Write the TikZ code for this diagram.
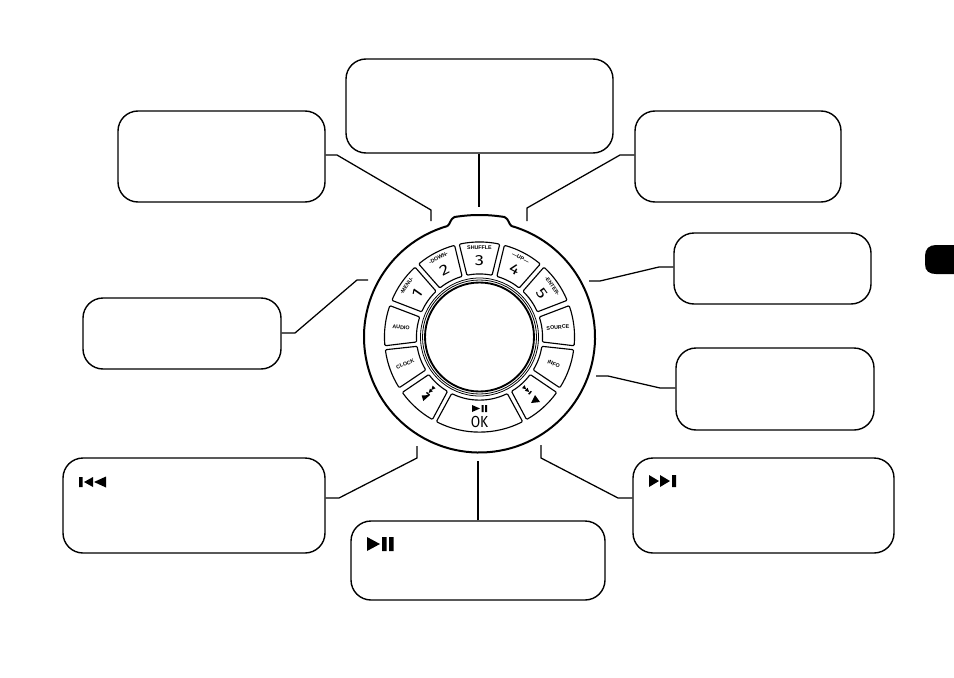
\documentclass[tikz,border=0pt]{standalone}
\usepackage{graphicx}
\usepackage{fontspec}
\setmainfont{Liberation Sans}
\newfontfamily\digitfont{Fira Sans}
\tikzset{
  box/.style={draw=black,line width=1.05pt,rounded corners=15pt,inner sep=0pt,fill=white},
  leader/.style={draw=black,line width=0.95pt},
  btn/.style={draw=black,line width=0.85pt,rounded corners=0.8pt,line join=round},
  small/.style={inner sep=0pt,font=\bfseries\fontsize{4}{4.5}\selectfont},
  digit/.style={inner sep=0pt,font=\digitfont\fontsize{11}{12}\selectfont},
  icon/.style={fill=black,draw=none},
}
\newcommand{\ringbtn}[2]{%
  \draw[btn] ({#1-#2}:95) arc[start angle=#1-#2,end angle=#1+#2,radius=95]
     -- ({#1+#2-0.8}:63) arc[start angle=#1+#2-0.8,end angle=#1-#2+0.8,radius=63] -- cycle;}
\newcommand{\widedigit}[1]{\scalebox{1.25}[1]{#1}}
\begin{document}
\begin{tikzpicture}[x=0.75pt,y=-0.75pt]
\useasboundingbox (0,0) rectangle (954,678);
% boxes
\node[box,minimum width=155.25pt,minimum height=68.25pt] (tl) at (221.5,156.5) {};
\node[box,minimum width=200.25pt,minimum height=70.5pt] (tc) at (479.5,106) {};
\node[box,minimum width=154.5pt,minimum height=68.25pt] (tr) at (738,156.5) {};
\node[box,minimum width=147.75pt,minimum height=53.25pt] (r1) at (772.5,268.5) {};
\node[box,minimum width=148.5pt,minimum height=61.5pt] (r2) at (775,389) {};
\node[box,minimum width=148.5pt,minimum height=53.25pt] (l1) at (182,333.5) {};
\node[box,minimum width=196.5pt,minimum height=71.25pt] (bl) at (194,505.5) {};
\node[box,minimum width=190.5pt,minimum height=59.25pt] (bc) at (478,560.5) {};
\node[box,minimum width=195.75pt,minimum height=71.25pt] (br) at (763.5,505.5) {};
% leaders
\coordinate (a1) at (337,155); \coordinate (a2) at (431,210); \coordinate (a3) at (431,221);
\draw[leader] (tl.east |- a1) -- (a1) -- (a2) -- (a3);
\coordinate (b1) at (479,207);
\draw[leader] (tc.south -| b1) -- (b1);
\coordinate (c1) at (620,155); \coordinate (c2) at (527,208); \coordinate (c3) at (527,221);
\draw[leader] (tr.west |- c1) -- (c1) -- (c2) -- (c3);
\coordinate (d1) at (659,267); \coordinate (d2) at (600,281); \coordinate (d3) at (589,281);
\draw[leader] (r1.west |- d1) -- (d1) -- (d2) -- (d3);
\coordinate (e1) at (660,388); \coordinate (e2) at (608,376); \coordinate (e3) at (596,376);
\draw[leader] (r2.west |- e1) -- (e1) -- (e2) -- (e3);
\coordinate (f1) at (618,498); \coordinate (f2) at (541,458); \coordinate (f3) at (541,445);
\draw[leader] (br.west |- f1) -- (f1) -- (f2) -- (f3);
\coordinate (g1) at (478,461);
\draw[leader] (bc.north -| g1) -- (g1);
\coordinate (h1) at (339,498); \coordinate (h2) at (417,458); \coordinate (h3) at (417,446);
\draw[leader] (bl.east |- h1) -- (h1) -- (h2) -- (h3);
\coordinate (i1) at (295,333); \coordinate (i2) at (357,280); \coordinate (i3) at (368,280);
\draw[leader] (l1.east |- i1) -- (i1) -- (i2) -- (i3);
% box icons
\fill[icon] (79,477) rectangle (82.5,487) (84,482) -- (93,477) -- (93,487) -- cycle (94,482) -- (106,476.5) -- (106,487.5) -- cycle;
\fill[icon] (367,537) -- (380,544) -- (367,551) -- cycle (382,537) rectangle (386.5,551) (389,537) rectangle (393.5,551);
\fill[icon] (649,475) -- (659,481) -- (649,487) -- cycle (660,475) -- (670,481) -- (660,487) -- cycle (672,475) rectangle (676,487);
% thumb tab
\fill[black] (954,245) -- (936,245) .. controls (929,245) and (925,249) .. (925,256) -- (925,264) .. controls (925,271) and (929,274) .. (936,274) -- (954,274) -- cycle;
% dial
\begin{scope}[shift={(479.5,337)},y=0.75pt]
\draw[line width=1.5pt,line join=round] (106.1:115.5) arc[start angle=106.1,end angle=433.9,radius=115.5]
  .. controls (29,113) and (29.5,118) .. (25,120)
  .. controls (15,121.5) and (8,122) .. (0,122)
  .. controls (-8,122) and (-15,121.5) .. (-25,120)
  .. controls (-29.5,118) and (-29,113) .. (106.1:115.5);
\draw[line width=0.6pt] (0,0) circle[radius=59];
\draw[line width=0.6pt] (0,0) circle[radius=57];
\draw[line width=1.4pt] (0,0) circle[radius=54.5];
\ringbtn{90}{12.3}
\ringbtn{117.5}{12.3}
\ringbtn{145}{12.3}
\ringbtn{173}{12.3}
\ringbtn{200}{12.3}
\ringbtn{228}{12.3}
\ringbtn{270}{27}
\ringbtn{312}{12.3}
\ringbtn{340}{12.3}
\ringbtn{7}{12.3}
\ringbtn{35}{12.3}
\ringbtn{62.5}{12.3}
\node[small,rotate=0] (lshuffle) at (90:89.5) {SHUFFLE};
\node[small,rotate=27.5] (ldown) at (117.5:89) {-DOWN-};
\node[small,rotate=55] (lmenu) at (145:89) {-MENU-};
\node[small,rotate=-27.5] (lup) at (62.5:89) {---UP---};
\node[small,rotate=-55] (lenter) at (35:89) {-ENTER-};
\node[digit] (d3) at (90:76.5) {\widedigit{3}};
\node[digit,rotate=27.5] (d2) at (117.5:76) {\widedigit{2}};
\node[digit,rotate=55] (d1) at (145:76) {\widedigit{1}};
\node[digit,rotate=-27.5] (d4) at (62.5:76) {\widedigit{4}};
\node[digit,rotate=-55] (d5) at (35:76) {\widedigit{5}};
\node[small,rotate=-5] (laudio) at (173:79) {AUDIO};
\node[small,rotate=5] (lsource) at (7:79) {SOURCE};
\node[small,rotate=22] (lclock) at (200:79) {CLOCK};
\node[small,rotate=-22] (linfo) at (340:79) {INFO};
\node[inner sep=0pt,font=\digitfont\fontsize{12}{13}\selectfont] (lok) at (270:84.5) {\scalebox{0.85}[1]{OK}};
\end{scope}
% small icons on the prev / next buttons
\fill[icon] (535,395) -- (531,403) -- (540,402) -- cycle;
\fill[icon] (423.3,401) -- (421.7,395.5) -- (430,395) -- cycle;
\begin{scope}[shift={(527,390)},rotate=-42]
\fill[icon] (-5,-2) -- (-1,0) -- (-5,2) -- cycle (-1,-2) -- (3,0) -- (-1,2) -- cycle (3.4,-2) rectangle (4.8,2);
\end{scope}
\begin{scope}[shift={(430.7,390.7)},rotate=48]
\fill[icon] (-4.8,-2) rectangle (-3.4,2) (-3,0) -- (1,-2) -- (1,2) -- cycle (1,0) -- (5,-2) -- (5,2) -- cycle;
\end{scope}
% OK icon
\fill[icon] (472,405) -- (480,408.5) -- (472,412) -- cycle (481.5,405) rectangle (483.5,412) (485,405) rectangle (487,412);
\end{tikzpicture}
\end{document}
